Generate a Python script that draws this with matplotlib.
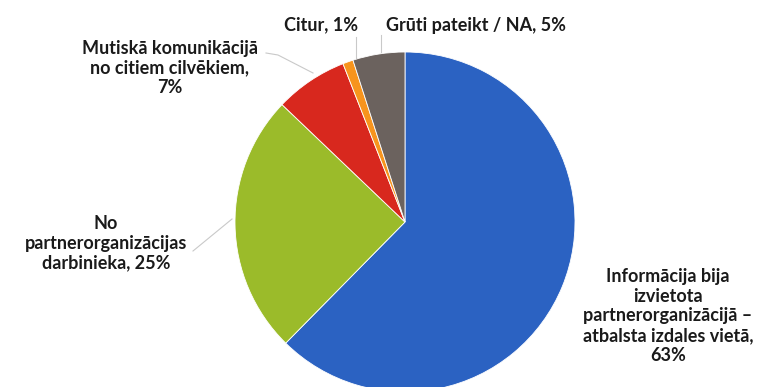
#!/usr/bin/env python3

import matplotlib.pyplot as plt

IMAGE_SIZE_PX = (758, 387)
IMAGE_DPI = 100

# Slices in drawing order, clockwise from 12 o'clock
LABELS = [
    "Informācija bija\nizvietota\npartnerorganizācijā –\natbalsta izdales vietā,\n63%",
    "No\npartnerorganizācijas\ndarbinieka, 25%",
    "Mutiskā komunikācijā\nno citiem cilvēkiem,\n7%",
    "Citur, 1%",
    "Grūti pateikt / NA, 5%",
]
SHARES = [63, 25, 7, 1, 5]
COLORS = ["#2b62c2", "#9bbb2a", "#d8281e", "#f7941d", "#6b625e"]


def main():
    W, H = IMAGE_SIZE_PX
    fig = plt.figure(figsize=(W / IMAGE_DPI, H / IMAGE_DPI), dpi=IMAGE_DPI)
    ax = fig.add_axes([0, 0, 1, 1])

    cx, cy, r = 405, H - 222, 170
    ax.pie(
        SHARES,
        colors=COLORS,
        startangle=90,
        counterclock=False,
        center=(cx, cy),
        radius=r,
        frame=True,
        wedgeprops=dict(edgecolor="white", linewidth=0.6),
    )
    ax.set_xlim(0, W)
    ax.set_ylim(0, H)
    ax.set_aspect("equal")
    ax.axis("off")

    # label anchor points (x, y from the top edge)
    spots = [(668, 316), (106, 243), (170, 68), (321, 25), (476, 25)]
    font = dict(family=["Lato", "DejaVu Sans"], fontsize=13, fontweight="bold",
                color="#1a1a1a", ha="center", va="center", linespacing=1.2)
    for text, (x, y) in zip(LABELS, spots):
        ax.text(x, H - y, text, **font)

    # leader lines
    leaders = [
        [(381, 35), (381, 52)],
        [(356, 37), (356, 58)],
        [(266, 53), (278, 55), (313, 73)],
        [(193, 251), (232, 219)],
    ]
    for pts in leaders:
        xs = [p[0] for p in pts]
        ys = [H - p[1] for p in pts]
        ax.plot(xs, ys, color="#c9c9c9", linewidth=0.8)

    fig.savefig("out.png", dpi=IMAGE_DPI)


if __name__ == "__main__":
    main()
